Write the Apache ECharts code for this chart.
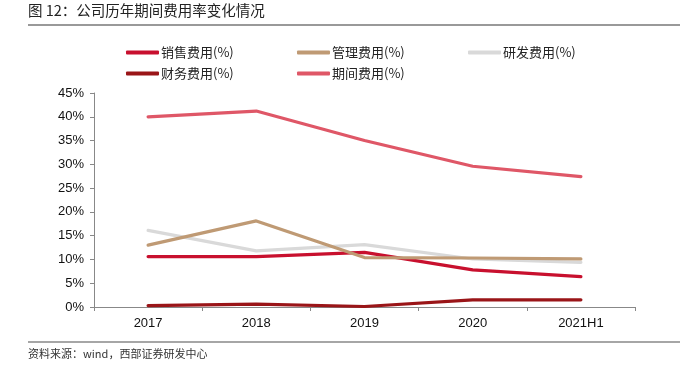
<!DOCTYPE html>
<html><head><meta charset="utf-8">
<script src="https://cdn.jsdelivr.net/npm/echarts@6/dist/echarts.min.js"></script>
<style>html,body{margin:0;padding:0;background:#fff}#c{width:680px;height:378px}</style>
</head><body><div id="c"></div>
<script>
const categories = ['2017', '2018', '2019', '2020', '2021H1'];
const seriesNames = ['销售费用(%)', '管理费用(%)', '研发费用(%)', '财务费用(%)', '期间费用(%)'];
const sales = [10.6, 10.6, 11.5, 7.8, 6.4];
const admin = [13.0, 18.1, 10.4, 10.3, 10.1];
const rnd = [16.1, 11.8, 13.1, 10.1, 9.4];
const finance = [0.3, 0.6, 0.1, 1.5, 1.5];
const period = [40.0, 41.2, 35.0, 29.6, 27.4];
const yTicks = [0, 5, 10, 15, 20, 25, 30, 35, 40, 45];

const colors = ['#C8102E', '#BF9A74', '#D9D9D9', '#9A1518', '#DF5767'];
const values = [sales, admin, rnd, finance, period];
const cjk = '"Noto Sans CJK SC", sans-serif';
const latin = '"Liberation Sans", Arial, sans-serif';
const legendPos = [[126, 46], [297, 46], [468, 46], [126, 67], [297, 67]];

const chart = echarts.init(document.getElementById('c'), null, {renderer: 'canvas'});
chart.setOption({
  animation: false,
  title: {
    text: '图 12：公司历年期间费用率变化情况',
    left: 28, top: 3, padding: 0,
    textStyle: {fontFamily: cjk, fontSize: 14.5, fontWeight: 'normal', color: '#222'}
  },
  graphic: [
    {type: 'line', shape: {x1: 28, y1: 25, x2: 680, y2: 25}, style: {stroke: '#777', lineWidth: 1.5}},
    {type: 'line', shape: {x1: 28, y1: 342, x2: 680, y2: 342}, style: {stroke: '#888', lineWidth: 1.5}},
    {type: 'text', left: 28, top: 348, style: {text: '资料来源：wind，西部证券研发中心', fontFamily: cjk, fontSize: 11, fill: '#333'}}
  ],
  legend: seriesNames.map((n, i) => ({
    data: [n], left: legendPos[i][0], top: legendPos[i][1], padding: 0,
    icon: 'roundRect', itemWidth: 33, itemHeight: 4, itemGap: 0,
    textStyle: {fontFamily: cjk, fontSize: 13, color: '#222', padding: [0, 0, 0, -3]}
  })),
  grid: {left: 94, right: 45, top: 93, bottom: 71, containLabel: false},
  xAxis: {
    type: 'category', data: categories, boundaryGap: true,
    axisLine: {lineStyle: {color: '#888', width: 1}},
    axisTick: {show: true, length: 4, lineStyle: {color: '#888'}},
    axisLabel: {fontFamily: latin, fontSize: 13, color: '#111', margin: 10}
  },
  yAxis: {
    type: 'value', min: 0, max: 45, interval: 5,
    axisLine: {show: true, lineStyle: {color: '#888', width: 1}},
    axisTick: {show: true, length: 4, lineStyle: {color: '#888'}},
    splitLine: {show: false},
    axisLabel: {fontFamily: latin, fontSize: 13, color: '#111', margin: 10,
      formatter: v => yTicks.includes(v) ? v + '%' : ''}
  },
  series: seriesNames.map((n, i) => ({
    name: n, type: 'line', data: values[i],
    symbol: 'none', lineStyle: {color: colors[i], width: 3.2, cap: 'round'},
    itemStyle: {color: colors[i]}, z: i === 2 ? 1 : 2
  }))
});
</script></body></html>
